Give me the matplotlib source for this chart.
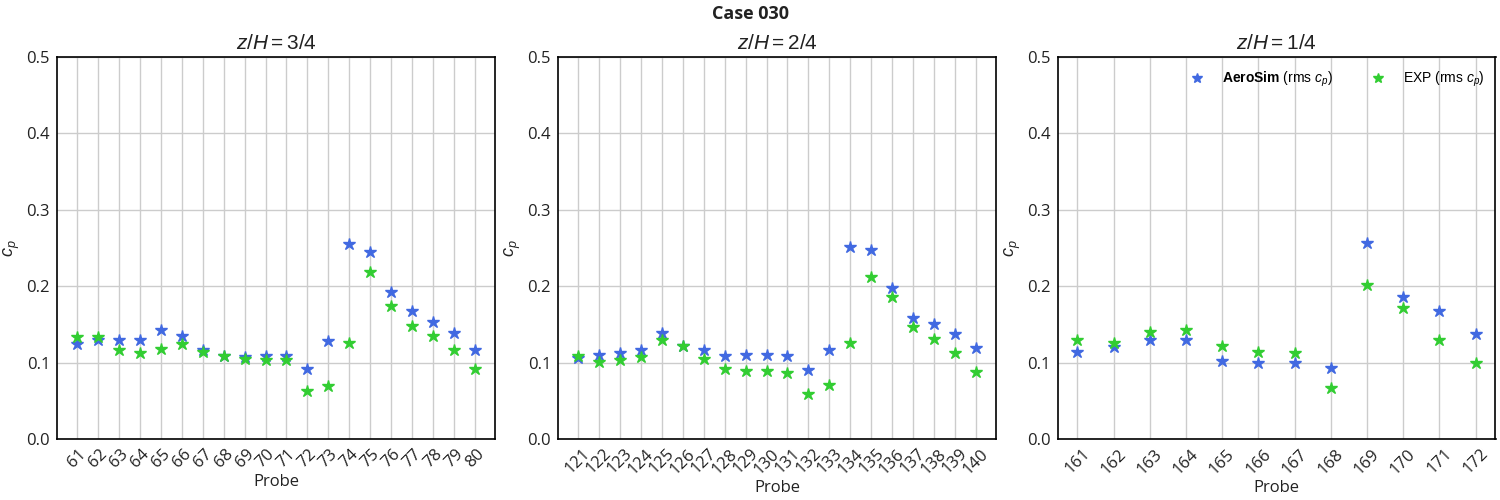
import matplotlib
matplotlib.use("Agg")
import matplotlib.pyplot as plt

# Probe numbers per height level
probes_34 = list(range(61, 81))
probes_24 = list(range(121, 141))
probes_14 = list(range(161, 173))

# rms cp, AeroSim
sim_34 = [0.124, 0.130, 0.130, 0.130, 0.143, 0.135, 0.116, 0.109, 0.107, 0.108,
          0.108, 0.092, 0.128, 0.255, 0.245, 0.193, 0.167, 0.153, 0.139, 0.117]
sim_24 = [0.106, 0.110, 0.112, 0.117, 0.139, 0.122, 0.116, 0.109, 0.110, 0.110,
          0.109, 0.090, 0.116, 0.251, 0.247, 0.198, 0.159, 0.150, 0.138, 0.119]
sim_14 = [0.114, 0.120, 0.129, 0.129, 0.102, 0.100, 0.099, 0.093, 0.257, 0.186,
          0.168, 0.137]

# rms cp, experiment
exp_34 = [0.133, 0.133, 0.116, 0.112, 0.118, 0.124, 0.114, 0.109, 0.105, 0.103,
          0.103, 0.063, 0.070, 0.126, 0.218, 0.174, 0.148, 0.135, 0.117, 0.091]
exp_24 = [0.109, 0.101, 0.103, 0.107, 0.129, 0.122, 0.105, 0.092, 0.089, 0.089,
          0.087, 0.059, 0.071, 0.126, 0.212, 0.186, 0.146, 0.131, 0.113, 0.088]
exp_14 = [0.129, 0.126, 0.140, 0.143, 0.122, 0.114, 0.113, 0.067, 0.201, 0.172,
          0.130, 0.099]

titles = [r"$z/H=3/4$", r"$z/H=2/4$", r"$z/H=1/4$"]

plt.rcParams["font.family"] = ["Open Sans", "DejaVu Sans"]
plt.rcParams["mathtext.fontset"] = "custom"
plt.rcParams["mathtext.rm"] = "Liberation Sans"
plt.rcParams["mathtext.it"] = "Liberation Sans:italic"
plt.rcParams["mathtext.bf"] = "Liberation Sans:bold"

fig = plt.figure(figsize=(15, 5), dpi=100)
lefts = [0.038, 0.372, 0.705]
width = 0.292
axes = [fig.add_axes([l, 0.122, width, 0.764]) for l in lefts]

levels = [(probes_34, sim_34, exp_34), (probes_24, sim_24, exp_24), (probes_14, sim_14, exp_14)]
for ax, (pr, sim, exp), title in zip(axes, levels, titles):
    ax.set_axisbelow(True)
    ax.grid(True, color="#cccccc", linewidth=1.0)
    ax.plot(pr, sim, linestyle="none", marker="*", markersize=9, color="royalblue",
            label=r"$\bf{AeroSim}$ (rms $c_p$)")
    ax.plot(pr, exp, linestyle="none", marker="*", markersize=9, color="limegreen",
            label=r"EXP (rms $c_p$)")
    ax.set_ylim(0, 0.5)
    ax.set_yticks([0.0, 0.1, 0.2, 0.3, 0.4, 0.5])
    ax.set_xticks(pr)
    ax.set_xticklabels([str(p) for p in pr], rotation=45)
    ax.tick_params(axis="both", length=0, labelsize=12, pad=5, labelcolor="#222222")
    ax.set_title(title, fontsize=15, pad=6, color="#222222")
    ax.set_xlabel("Probe", fontsize=12, color="#222222", labelpad=2)
    ax.set_ylabel(r"$c_p$", fontsize=13, color="#222222", labelpad=3)
    for sp in ax.spines.values():
        sp.set_color("black")
        sp.set_linewidth(1.2)

axes[2].legend(loc="upper right", ncol=2, frameon=False, columnspacing=2.2,
               prop={"family": "Liberation Sans", "size": 10}, handletextpad=0.85,
               markerscale=0.85, bbox_to_anchor=(1.005, 1.0))

fig.suptitle("Case 030", fontsize=13, fontweight="bold", y=0.99, color="#222222")
fig.savefig("out.png", dpi=100)
